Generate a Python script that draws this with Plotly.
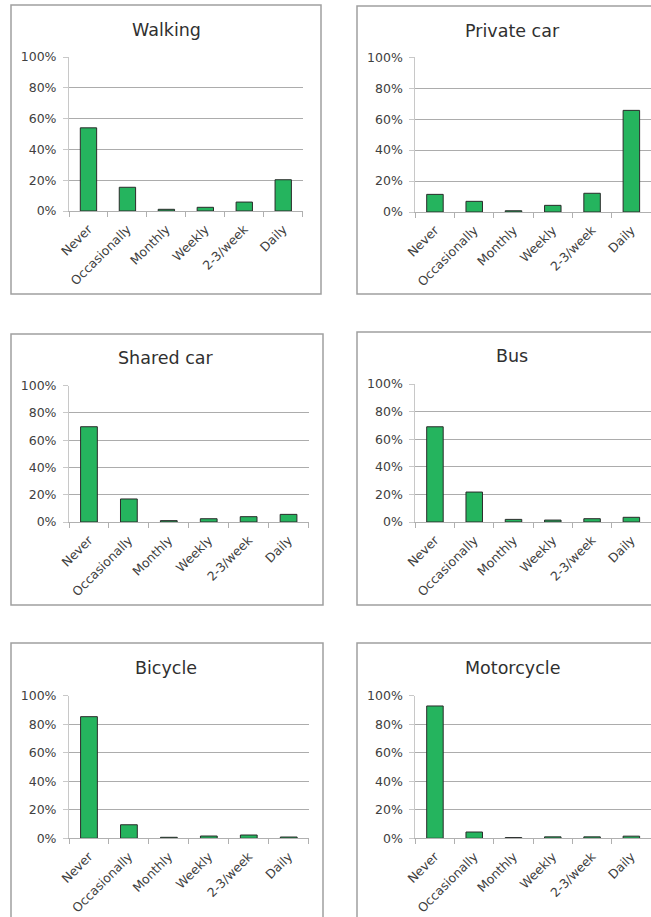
import plotly.graph_objects as go

W, H = 651, 917

categories = ["Never", "Occasionally", "Monthly", "Weekly", "2-3/week", "Daily"]
titles = ["Walking", "Private car", "Shared car", "Bus", "Bicycle", "Motorcycle"]
walking = [0.54, 0.154, 0.011, 0.024, 0.058, 0.203]
private_car = [0.114, 0.069, 0.008, 0.043, 0.121, 0.657]
shared_car = [0.699, 0.169, 0.010, 0.024, 0.039, 0.056]
bus = [0.690, 0.217, 0.019, 0.014, 0.024, 0.034]
bicycle = [0.853, 0.095, 0.007, 0.016, 0.023, 0.009]
motorcycle = [0.928, 0.044, 0.005, 0.010, 0.010, 0.015]
series = [walking, private_car, shared_car, bus, bicycle, motorcycle]

# plot areas in pixels: (x0, x1, ytop, ybottom)
areas = [
    (69, 302.7, 57, 211),
    (415.3, 651, 57.3, 212),
    (69, 308.5, 385.7, 522),
    (415.3, 651, 384, 522),
    (69, 308.7, 695.7, 838.3),
    (415.3, 651, 695.7, 838.3),
]
boxes = [
    (11, 321, 5, 294),
    (357, 660, 6, 294),
    (11, 323, 334, 605),
    (357, 660, 332, 605),
    (11, 323, 643, 930),
    (357, 660, 643, 930),
]
title_pos = [(166, 30), (512, 30.7), (166, 358), (512, 356), (166, 668), (512, 668)]

FONT = "DejaVu Sans"
fig = go.Figure()
layout = dict(
    width=W, height=H, margin=dict(l=0, r=0, t=0, b=0, autoexpand=False),
    paper_bgcolor="white", plot_bgcolor="white", showlegend=False,
    bargap=0.58, font=dict(family=FONT, size=12, color="#404040"),
)
shapes = []
annotations = []
for i, (vals, (x0, x1, yt, yb)) in enumerate(zip(series, areas)):
    n = i + 1
    xa = "x" if n == 1 else f"x{n}"
    ya = "y" if n == 1 else f"y{n}"
    fig.add_trace(go.Bar(
        x=categories, y=vals, xaxis=xa, yaxis=ya,
        marker=dict(color="#25B45E", line=dict(color="#2b2b2b", width=1)),
        hoverinfo="x+y",
    ))
    xkey = "xaxis" if n == 1 else f"xaxis{n}"
    ykey = "yaxis" if n == 1 else f"yaxis{n}"
    layout[xkey] = dict(
        domain=[x0 / W, min(x1 / W, 1)], anchor=ya, type="category",
        tickson="boundaries", ticks="outside", ticklen=5, tickcolor="#b0b0b0",
        showline=True, linecolor="#b0b0b0", linewidth=1, showgrid=False,
        tickangle=-45, tickfont=dict(family=FONT, size=12.5, color="#404040"),
        ticklabelstandoff=5, fixedrange=True, automargin=False,
    )
    layout[ykey] = dict(
        domain=[1 - yb / H, 1 - yt / H], anchor=xa, range=[0, 1],
        dtick=0.2, tickformat=".0%", ticks="outside", ticklen=5,
        tickcolor="#c8c8c8", showline=True, linecolor="#c8c8c8", linewidth=1,
        showgrid=True, gridcolor="#acacac", gridwidth=1, zeroline=False,
        tickfont=dict(family=FONT, size=12.5, color="#404040"),
        ticklabelstandoff=4, fixedrange=True, automargin=False,
    )
    bx0, bx1, by0, by1 = boxes[i]
    shapes.append(dict(
        type="rect", xref="paper", yref="paper",
        x0=bx0 / W, x1=bx1 / W, y0=1 - by1 / H, y1=1 - by0 / H,
        line=dict(color="#a0a0a0", width=1.5), layer="below",
    ))
    tx, ty = title_pos[i]
    annotations.append(dict(
        text=titles[i], xref="paper", yref="paper", x=tx / W, y=1 - ty / H,
        xanchor="center", yanchor="middle", showarrow=False,
        font=dict(family=FONT, size=17.5, color="#303030"),
    ))

layout["shapes"] = shapes
layout["annotations"] = annotations
fig.update_layout(**layout)
fig.write_html(
    "out.html",
    config={"displayModeBar": False},
    post_script="document.body.style.margin='0';document.body.style.overflow='hidden';",
)
